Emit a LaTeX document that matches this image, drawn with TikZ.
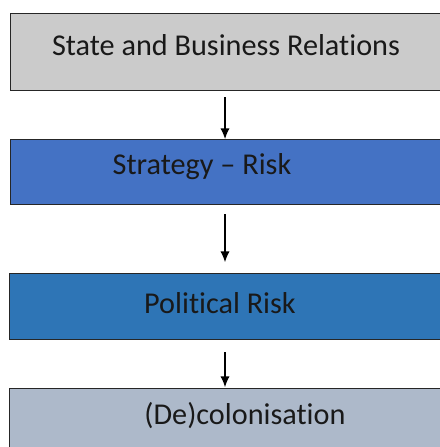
\documentclass[tikz,border=0pt]{standalone}
\usepackage{fontspec}
\setmainfont{Carlito}[Ligatures=NoCommon]
\usetikzlibrary{positioning,arrows.meta}
\definecolor{boxgray}{HTML}{CBCBCB}
\definecolor{boxblue}{HTML}{4472C4}
\definecolor{boxdeep}{HTML}{2E75B6}
\definecolor{boxslate}{HTML}{ADB9CA}
\tikzset{box/.style={
    draw=black!85, line width=1pt, rectangle,
    anchor=north west, minimum width=11.5cm, inner sep=0pt},
  lbl/.style={font=\fontsize{21.5}{24}\selectfont, text=black!90}
}

\begin{document}
\begin{tikzpicture}[x=0.025cm,y=-0.025cm,>={Latex[length=7.5pt,width=6.5pt]}]
		\fill[white] (0,0) rectangle (440,447);
		\clip (0,0) rectangle (440,447);

		% the four stages, each running off the right edge
		\node[box,fill=boxgray,minimum height=1.925cm] (B1) at (10,13) {};
		\node[box,fill=boxblue,minimum height=1.625cm] (B2) at (10,139) {};
		\node[box,fill=boxdeep,minimum height=1.65cm] (B3) at (9,273) {};
		\node[box,fill=boxslate,minimum height=2.5cm] (B4) at (9,388) {};

		\node[lbl] (T1) at (226,45) {State and Business Relations};
		\node[lbl] (T2) at (202,167) {Strategy -- Risk};
		\node[lbl] (T3) at (220,303) {Political Risk};
		\node[lbl] (T4) at (245,416) {(De)colonisation};

		\coordinate (ax) at (225,0);
		\draw [->,line width=0.8pt,shorten <=4.3pt] (B1.south -| ax) -- (B2.north -| ax);
		\draw [->,line width=0.8pt,shorten <=6.4pt,shorten >=7.8pt] (B2.south -| ax) -- (B3.north -| ax);
		\draw [->,line width=0.8pt,shorten <=8.5pt,shorten >=0.7pt] (B3.south -| ax) -- (B4.north -| ax);
	\end{tikzpicture}
\end{document}
